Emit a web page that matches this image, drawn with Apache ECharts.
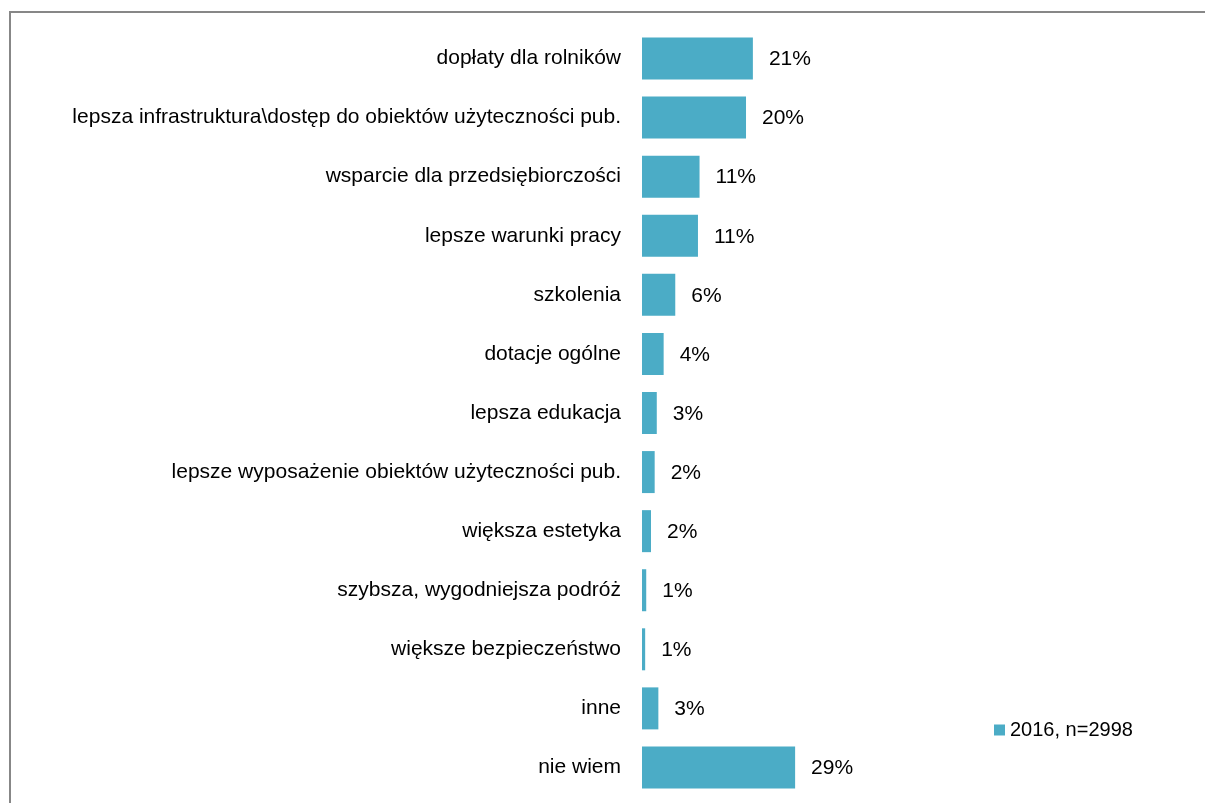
<!DOCTYPE html>
<html>
<head>
<meta charset="utf-8">
<style>
html,body{margin:0;padding:0;background:#fff;}
#chart{width:1205px;height:803px;}
</style>
<script src="https://cdn.jsdelivr.net/npm/echarts@6/dist/echarts.min.js"></script>
</head>
<body>
<div id="chart"></div>
<script>
const categories = [
  "dopłaty dla rolników",
  "lepsza infrastruktura\\dostęp do obiektów użyteczności pub.",
  "wsparcie dla przedsiębiorczości",
  "lepsze warunki pracy",
  "szkolenia",
  "dotacje ogólne",
  "lepsza edukacja",
  "lepsze wyposażenie obiektów użyteczności pub.",
  "większa estetyka",
  "szybsza, wygodniejsza podróż",
  "większe bezpieczeństwo",
  "inne",
  "nie wiem"
];
const values2016 = [21.0, 19.7, 10.9, 10.6, 6.3, 4.1, 2.8, 2.4, 1.7, 0.8, 0.6, 3.1, 29.0];
const seriesName = "2016, n=2998";

const FONT = '"Liberation Sans", Arial, sans-serif';
const chart = echarts.init(document.getElementById('chart'), null, {renderer: 'canvas'});
chart.setOption({
  animation: false,
  backgroundColor: '#ffffff',
  textStyle: {fontFamily: FONT},
  graphic: [{
    type: 'rect',
    shape: {x: 10, y: 12, width: 1300, height: 900},
    style: {fill: 'none', stroke: '#878787', lineWidth: 2},
    silent: true,
    z: -10
  }],
  legend: {
    data: [seriesName],
    left: 989,
    top: 715,
    icon: 'rect',
    itemWidth: 11,
    itemHeight: 11,
    textStyle: {fontFamily: FONT, fontSize: 20, color: '#000', padding: [0, 0, 0, 0]},
    itemGap: 5
  },
  grid: {left: 642, right: 299, top: 29, bottom: 6},
  xAxis: {
    type: 'value', min: 0, max: 50,
    show: false
  },
  yAxis: {
    type: 'category',
    data: categories,
    inverse: true,
    axisLine: {show: false},
    axisTick: {show: false},
    axisLabel: {fontFamily: FONT, fontSize: 21, color: '#000', margin: 21}
  },
  series: [{
    name: seriesName,
    type: 'bar',
    data: values2016,
    barWidth: 42,
    itemStyle: {color: '#4BACC6'},
    label: {
      show: true,
      position: 'right',
      distance: 16,
      offset: [0, 1],
      fontFamily: FONT,
      fontSize: 21,
      color: '#000',
      formatter: p => Math.round(p.value) + '%'
    }
  }]
});
</script>
</body>
</html>
